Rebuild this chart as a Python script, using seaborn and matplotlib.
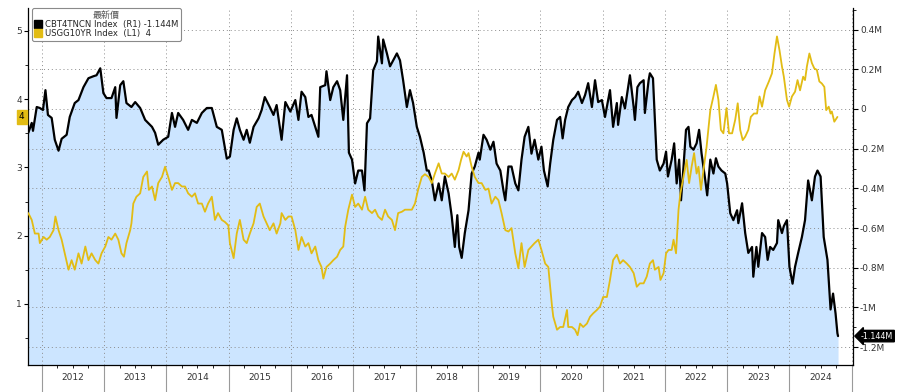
import numpy as np
import pandas as pd
import matplotlib
matplotlib.use("Agg")
import matplotlib.pyplot as plt
import matplotlib.transforms as mtransforms
from matplotlib.ticker import FixedLocator, FuncFormatter
from matplotlib.lines import Line2D
import seaborn as sns

# ---------------- data (decimal years) ----------------
black_t = [2011.785, 2011.84, 2011.86, 2011.92, 2011.97, 2012.02, 2012.06, 2012.10, 2012.16, 2012.21,
           2012.27, 2012.32, 2012.40, 2012.45, 2012.53, 2012.59, 2012.67, 2012.75, 2012.83, 2012.88,
           2012.94, 2012.99, 2013.04, 2013.12, 2013.18, 2013.20, 2013.26, 2013.31, 2013.36, 2013.44,
           2013.50, 2013.58, 2013.66, 2013.77, 2013.82, 2013.87, 2013.95, 2014.03, 2014.09, 2014.14,
           2014.19, 2014.27, 2014.35, 2014.41, 2014.49, 2014.57, 2014.65, 2014.73, 2014.81, 2014.89,
           2014.97, 2015.02, 2015.08, 2015.13, 2015.18, 2015.24, 2015.29, 2015.34, 2015.40, 2015.48,
           2015.53, 2015.58, 2015.66, 2015.72, 2015.77, 2015.85, 2015.91, 2015.99, 2016.07, 2016.12,
           2016.17, 2016.23, 2016.28, 2016.33, 2016.39, 2016.44, 2016.47, 2016.55, 2016.57, 2016.63,
           2016.68, 2016.74, 2016.79, 2016.84, 2016.90, 2016.93, 2016.98, 2017.03, 2017.08, 2017.14,
           2017.18, 2017.22, 2017.27, 2017.32, 2017.38, 2017.40, 2017.46, 2017.48, 2017.54, 2017.59,
           2017.64, 2017.70, 2017.75, 2017.80, 2017.86, 2017.91, 2017.96, 2018.02, 2018.07, 2018.13,
           2018.18, 2018.21, 2018.26, 2018.31, 2018.37, 2018.42, 2018.47, 2018.53, 2018.58, 2018.63,
           2018.67, 2018.70, 2018.74, 2018.79, 2018.85, 2018.90, 2018.95, 2019.01, 2019.03, 2019.09,
           2019.14, 2019.20, 2019.25, 2019.30, 2019.36, 2019.41, 2019.44, 2019.49, 2019.54, 2019.60,
           2019.65, 2019.70, 2019.75, 2019.81, 2019.86, 2019.91, 2019.97, 2020.02, 2020.06, 2020.12,
           2020.16, 2020.21, 2020.27, 2020.32, 2020.36, 2020.40, 2020.45, 2020.51, 2020.56, 2020.61,
           2020.67, 2020.72, 2020.77, 2020.83, 2020.88, 2020.93, 2020.99, 2021.04, 2021.12, 2021.17,
           2021.23, 2021.25, 2021.31, 2021.36, 2021.44, 2021.50, 2021.52, 2021.56, 2021.60, 2021.66,
           2021.68, 2021.74, 2021.76, 2021.81, 2021.84, 2021.87, 2021.92, 2021.98, 2022.02, 2022.05,
           2022.11, 2022.15, 2022.19, 2022.23, 2022.26, 2022.30, 2022.34, 2022.38, 2022.41, 2022.46,
           2022.51, 2022.55, 2022.59, 2022.65, 2022.68, 2022.73, 2022.78, 2022.82, 2022.86, 2022.91,
           2022.97, 2023.00, 2023.05, 2023.10, 2023.16, 2023.18, 2023.24, 2023.29, 2023.34, 2023.40,
           2023.42, 2023.47, 2023.50, 2023.56, 2023.61, 2023.65, 2023.69, 2023.74, 2023.80, 2023.82,
           2023.88, 2023.91, 2023.96, 2024.00, 2024.05, 2024.09, 2024.14, 2024.20, 2024.25, 2024.30,
           2024.36, 2024.41, 2024.45, 2024.50, 2024.55, 2024.61, 2024.66, 2024.70, 2024.74, 2024.77,
           2024.78]
black_v = [-0.12, -0.07, -0.11, 0.01, 0.005, -0.005, 0.095, -0.03, -0.045, -0.155,
           -0.21, -0.15, -0.13, -0.04, 0.03, 0.045, 0.11, 0.155, 0.165, 0.17,
           0.205, 0.08, 0.055, 0.055, 0.11, -0.045, 0.12, 0.14, 0.03, 0.01,
           0.035, 0.005, -0.055, -0.09, -0.12, -0.18, -0.155, -0.14, -0.02, -0.09,
           -0.02, -0.055, -0.105, -0.055, -0.07, -0.02, 0.005, 0.005, -0.09, -0.105,
           -0.25, -0.24, -0.105, -0.047, -0.105, -0.155, -0.105, -0.17, -0.09, -0.047,
           -0.005, 0.06, 0.01, -0.03, 0.02, -0.155, 0.035, -0.013, 0.045, -0.055,
           0.087, 0.06, -0.04, -0.03, -0.09, -0.14, 0.11, 0.12, 0.19, 0.045,
           0.11, 0.14, 0.095, -0.055, 0.17, -0.22, -0.255, -0.375, -0.31, -0.31,
           -0.41, -0.072, -0.047, 0.195, 0.24, 0.365, 0.23, 0.35, 0.28, 0.215,
           0.245, 0.28, 0.245, 0.145, 0.01, 0.095, 0.03, -0.09, -0.14, -0.22,
           -0.31, -0.31, -0.36, -0.46, -0.375, -0.46, -0.34, -0.425, -0.54, -0.695,
           -0.535, -0.695, -0.75, -0.625, -0.51, -0.325, -0.29, -0.22, -0.255, -0.13,
           -0.155, -0.205, -0.165, -0.275, -0.31, -0.41, -0.46, -0.29, -0.29, -0.375,
           -0.41, -0.255, -0.14, -0.09, -0.225, -0.155, -0.255, -0.19, -0.31, -0.39,
           -0.275, -0.155, -0.055, -0.04, -0.148, -0.055, 0.01, 0.045, 0.06, 0.087,
           0.03, 0.07, 0.13, 0.01, 0.145, 0.035, 0.045, -0.04, 0.095, -0.09,
           0.03, -0.08, 0.06, 0.003, 0.17, 0.01, -0.055, 0.11, 0.13, 0.145,
           -0.02, 0.145, 0.18, 0.155, -0.055, -0.255, -0.31, -0.275, -0.215, -0.34,
           -0.255, -0.173, -0.375, -0.255, -0.46, -0.29, -0.105, -0.09, -0.19, -0.205,
           -0.173, -0.105, -0.225, -0.36, -0.435, -0.255, -0.325, -0.248, -0.29, -0.31,
           -0.325, -0.375, -0.525, -0.56, -0.51, -0.575, -0.475, -0.625, -0.725, -0.695,
           -0.845, -0.695, -0.795, -0.625, -0.645, -0.76, -0.695, -0.71, -0.675, -0.56,
           -0.625, -0.59, -0.56, -0.795, -0.88, -0.795, -0.725, -0.645, -0.56, -0.36,
           -0.46, -0.34, -0.31, -0.34, -0.645, -0.76, -1.01, -0.93, -1.03, -1.13,
           -1.144]

yellow_t = [2011.785, 2011.84, 2011.89, 2011.95, 2011.97, 2012.03, 2012.08, 2012.13, 2012.19, 2012.22,
            2012.27, 2012.32, 2012.37, 2012.43, 2012.48, 2012.53, 2012.59, 2012.64, 2012.70, 2012.75,
            2012.80, 2012.86, 2012.91, 2012.96, 2013.02, 2013.07, 2013.12, 2013.18, 2013.23, 2013.28,
            2013.32, 2013.36, 2013.42, 2013.44, 2013.47, 2013.52, 2013.58, 2013.63, 2013.69, 2013.72,
            2013.77, 2013.82, 2013.87, 2013.93, 2013.98, 2014.03, 2014.09, 2014.14, 2014.19, 2014.25,
            2014.30, 2014.35, 2014.41, 2014.46, 2014.51, 2014.57, 2014.62, 2014.67, 2014.73, 2014.78,
            2014.83, 2014.89, 2014.94, 2014.995, 2015.02, 2015.08, 2015.13, 2015.18, 2015.24, 2015.29,
            2015.34, 2015.40, 2015.45, 2015.50, 2015.56, 2015.61, 2015.66, 2015.72, 2015.77, 2015.83,
            2015.85, 2015.91, 2015.96, 2016.01, 2016.07, 2016.12, 2016.17, 2016.23, 2016.28, 2016.33,
            2016.39, 2016.44, 2016.49, 2016.52, 2016.57, 2016.63, 2016.68, 2016.74, 2016.79, 2016.84,
            2016.87, 2016.92, 2016.98, 2017.03, 2017.08, 2017.14, 2017.19, 2017.24, 2017.30, 2017.35,
            2017.40, 2017.46, 2017.51, 2017.56, 2017.62, 2017.67, 2017.72, 2017.78, 2017.83, 2017.88,
            2017.94, 2017.99, 2018.04, 2018.10, 2018.15, 2018.21, 2018.26, 2018.31, 2018.37, 2018.42,
            2018.47, 2018.53, 2018.58, 2018.63, 2018.69, 2018.73, 2018.77, 2018.82, 2018.85, 2018.90,
            2018.95, 2019.01, 2019.06, 2019.12, 2019.17, 2019.22, 2019.28, 2019.33, 2019.38, 2019.44,
            2019.49, 2019.54, 2019.60, 2019.65, 2019.70, 2019.75, 2019.81, 2019.86, 2019.91, 2019.97,
            2020.02, 2020.08, 2020.13, 2020.19, 2020.21, 2020.27, 2020.32, 2020.37, 2020.43, 2020.45,
            2020.51, 2020.56, 2020.60, 2020.64, 2020.69, 2020.75, 2020.80, 2020.85, 2020.91, 2020.96,
            2021.01, 2021.07, 2021.12, 2021.17, 2021.23, 2021.28, 2021.33, 2021.39, 2021.44, 2021.50,
            2021.55, 2021.60, 2021.66, 2021.71, 2021.76, 2021.81, 2021.84, 2021.90, 2021.93, 2021.98,
            2022.02, 2022.06, 2022.11, 2022.14, 2022.18, 2022.22, 2022.25, 2022.30, 2022.35, 2022.39,
            2022.43, 2022.47, 2022.51, 2022.54, 2022.58, 2022.62, 2022.67, 2022.73, 2022.78, 2022.82,
            2022.86, 2022.90, 2022.94, 2022.99, 2023.03, 2023.08, 2023.13, 2023.17, 2023.21, 2023.25,
            2023.29, 2023.34, 2023.38, 2023.43, 2023.48, 2023.52, 2023.56, 2023.61, 2023.67, 2023.72,
            2023.76, 2023.80, 2023.84, 2023.88, 2023.91, 2023.96, 2023.995, 2024.04, 2024.09, 2024.13,
            2024.17, 2024.22, 2024.25, 2024.28, 2024.32, 2024.36, 2024.40, 2024.44, 2024.48, 2024.52,
            2024.56, 2024.59, 2024.63, 2024.66, 2024.68, 2024.72, 2024.77]
yellow_v = [2.33, 2.23, 2.03, 2.03, 1.89, 1.98, 1.94, 1.98, 2.08, 2.28,
            2.08, 1.94, 1.74, 1.50, 1.64, 1.50, 1.74, 1.59, 1.84, 1.64,
            1.74, 1.64, 1.59, 1.74, 1.84, 1.98, 1.94, 2.03, 1.94, 1.74,
            1.69, 1.89, 2.08, 2.18, 2.47, 2.57, 2.62, 2.86, 2.94, 2.67,
            2.72, 2.52, 2.77, 2.86, 3.01, 2.86, 2.67, 2.77, 2.77, 2.72,
            2.72, 2.62, 2.57, 2.62, 2.47, 2.47, 2.35, 2.47, 2.57, 2.23,
            2.33, 2.23, 2.20, 2.15, 1.89, 1.67, 2.03, 2.23, 1.94, 1.89,
            2.03, 2.18, 2.42, 2.47, 2.28, 2.18, 2.08, 2.18, 2.03, 2.18,
            2.33, 2.23, 2.28, 2.28, 2.08, 1.79, 1.98, 1.84, 1.89, 1.74,
            1.84, 1.64, 1.54, 1.37, 1.54, 1.59, 1.64, 1.69, 1.79, 1.84,
            2.13, 2.38, 2.60, 2.42, 2.47, 2.38, 2.57, 2.38, 2.33, 2.38,
            2.28, 2.23, 2.38, 2.28, 2.23, 2.08, 2.33, 2.35, 2.38, 2.38,
            2.38, 2.47, 2.67, 2.86, 2.90, 2.86, 2.77, 2.91, 3.06, 2.91,
            2.91, 2.86, 2.91, 2.82, 2.96, 3.11, 3.23, 3.16, 3.21, 3.01,
            2.86, 2.77, 2.77, 2.67, 2.69, 2.47, 2.57, 2.52, 2.33, 2.08,
            2.06, 2.11, 1.74, 1.52, 1.89, 1.54, 1.79, 1.84, 1.89, 1.94,
            1.79, 1.59, 1.54, 0.96, 0.81, 0.62, 0.66, 0.66, 0.91, 0.66,
            0.66, 0.62, 0.54, 0.71, 0.66, 0.71, 0.81, 0.86, 0.91, 0.96,
            1.10, 1.10, 1.35, 1.64, 1.72, 1.59, 1.64, 1.59, 1.54, 1.45,
            1.25, 1.30, 1.30, 1.40, 1.59, 1.64, 1.50, 1.54, 1.35, 1.45,
            1.74, 1.79, 1.79, 1.94, 1.74, 2.38, 2.62, 2.86, 3.11, 2.77,
            3.01, 3.21, 2.91, 3.01, 2.67, 2.96, 3.30, 3.84, 4.04, 4.21,
            3.99, 3.55, 3.50, 3.87, 3.50, 3.50, 3.70, 3.94, 3.55, 3.40,
            3.45, 3.55, 3.74, 3.79, 3.79, 4.04, 3.89, 4.13, 4.26, 4.38,
            4.67, 4.92, 4.72, 4.48, 4.33, 3.99, 3.89, 4.04, 4.11, 4.28,
            4.13, 4.33, 4.28, 4.48, 4.67, 4.53, 4.45, 4.43, 4.26, 4.23,
            4.18, 3.84, 3.89, 3.79, 3.82, 3.67, 3.74]

years = list(range(2012, 2026))
right_ticks = [-1.2, -1.0, -0.8, -0.6, -0.4, -0.2, 0.0, 0.2, 0.4]
left_ticks = [1, 2, 3, 4, 5]
black_label = "CBT4TNCN Index  (R1) -1.144M"
yellow_label = "USGG10YR Index  (L1)  4"
legend_title = "最新價"
black_last_text = "-1.144M"
yellow_last_text = "4"

# ---------------- styling ----------------
sns.set_theme(style="white")
plt.rcParams['font.family'] = ['DejaVu Sans', 'Noto Sans CJK TC']
plt.rcParams['axes.unicode_minus'] = False

BLACK = "#000000"
YELLOW = "#e2bc14"
FILL = "#cce5ff"
GRID = "#8c8c8c"
TXT = "#333333"

W, H = 911, 392
fig = plt.figure(figsize=(W / 100, H / 100), dpi=100)
fig.patch.set_facecolor("white")
x0, x1, y0, y1 = 28, 853, 8, 365
ax = fig.add_axes([x0 / W, 1 - y1 / H, (x1 - x0) / W, (y1 - y0) / H])
ax.set_facecolor("white")

# right-scale (black) series on the base axes
ax.fill_between(black_t, black_v, -1.4, color=FILL, linewidth=0, zorder=1)
sns.lineplot(x=black_t, y=black_v, ax=ax, color=BLACK, linewidth=1.6,
             estimator=None, sort=False, zorder=3)
ax.set_xlim(2011.78, 2025.02)
ax.set_ylim(-1.2897, 0.5088)
ax.set_xlabel("")
ax.set_ylabel("")

# left-scale (yellow) series on a twin axes
axl = ax.twinx()
sns.lineplot(x=yellow_t, y=yellow_v, ax=axl, color=YELLOW, linewidth=1.3,
             estimator=None, sort=False)
axl.set_ylim(0.103, 5.337)
axl.set_xlim(2011.78, 2025.02)
axl.set_ylabel("")

# base axes ticks go to the right (after twinx, which resets them)
ax.yaxis.tick_right()
ax.yaxis.set_major_locator(FixedLocator(right_ticks))
ax.yaxis.set_minor_locator(FixedLocator([v / 10 for v in range(-12, 6)]))


def rfmt(v, p):
    if abs(v) < 1e-9:
        return "0"
    return f"{v:g}M"


ax.yaxis.set_major_formatter(FuncFormatter(rfmt))
ax.tick_params(axis='y', which='major', right=True, left=False, labelright=True,
               labelleft=False, length=3.5, width=0.8, color=BLACK, labelsize=6.5,
               labelcolor=TXT, pad=1.5, direction='out')
ax.tick_params(axis='y', which='minor', right=True, left=False, length=2, width=0.6,
               color=BLACK, direction='out')

# x axis: year separators (major) and quarter ticks / labels (minor)
ax.xaxis.set_major_locator(FixedLocator(years))
ax.xaxis.set_major_formatter(FuncFormatter(lambda v, p: ""))
quarters = [y + q / 4 for y in range(2011, 2025) for q in range(4)]
ax.xaxis.set_minor_locator(FixedLocator(quarters))
ax.xaxis.set_minor_formatter(FuncFormatter(
    lambda v, p: str(int(np.floor(v))) if abs(v - np.floor(v) - 0.5) < 0.01 else ""))
ax.tick_params(axis='x', which='major', bottom=True, length=20, width=0.8,
               color="#9a9a9a", direction='out')
ax.tick_params(axis='x', which='minor', bottom=True, length=2, width=0.6,
               color=BLACK, labelsize=6.5, labelcolor=TXT, pad=4, direction='out')

ax.set_axisbelow('line')
ax.grid(True, axis='both', which='major', color=GRID, linestyle=(0, (1, 3)),
        linewidth=0.7)

for s in ['left', 'right', 'bottom']:
    ax.spines[s].set_visible(True)
    ax.spines[s].set_color(BLACK)
    ax.spines[s].set_linewidth(0.9)
ax.spines['top'].set_visible(False)

axl.yaxis.tick_left()
axl.yaxis.set_major_locator(FixedLocator(left_ticks))
axl.yaxis.set_minor_locator(FixedLocator([0.5 * k for k in range(1, 11)]))
axl.yaxis.set_major_formatter(FuncFormatter(lambda v, p: f"{int(v)}"))
axl.tick_params(axis='y', which='major', left=True, right=False, labelleft=True,
                labelright=False, length=3, width=0.8, color=BLACK, labelsize=6.5,
                labelcolor=TXT, pad=1.5, direction='out')
axl.tick_params(axis='y', which='minor', left=True, right=False, length=2, width=0.6,
                color=BLACK, direction='out')
axl.tick_params(axis='x', which='both', bottom=False, labelbottom=False)
axl.grid(False)
for s in axl.spines.values():
    s.set_visible(False)

# last-value tags
trR = mtransforms.blended_transform_factory(ax.transAxes, ax.transData)
ax.text(1.0095, black_v[-1], black_last_text, transform=trR, ha='left', va='center',
        color='white', fontsize=5.8, clip_on=False, zorder=10,
        bbox=dict(boxstyle='larrow,pad=0.15', fc=BLACK, ec=BLACK))
trL = mtransforms.blended_transform_factory(axl.transAxes, axl.transData)
axl.text(-0.0075, yellow_v[-1], yellow_last_text, transform=trL, ha='center', va='center',
         color=BLACK, fontsize=6.5, clip_on=False, zorder=10,
         bbox=dict(boxstyle='square,pad=0.25', fc=YELLOW, ec=YELLOW))

# legend
handles = [Line2D([], [], marker='s', color=BLACK, linestyle='none', markersize=5.5),
           Line2D([], [], marker='s', color=YELLOW, linestyle='none', markersize=5.5)]
leg = axl.legend(handles, [black_label, yellow_label], title=legend_title,
                 loc='upper left', bbox_to_anchor=(0.005, 1.0), fontsize=6.1,
                 title_fontsize=6.5, frameon=True, fancybox=True, edgecolor="#8a8a8a",
                 framealpha=1.0, borderpad=0.3, handletextpad=0.3, labelspacing=0.05,
                 handlelength=0.9, borderaxespad=0.0)
leg.get_title().set_color("#555555")
leg.get_title().set_family(['Noto Sans CJK TC', 'DejaVu Sans'])
leg.get_frame().set_linewidth(0.8)
leg.set_zorder(20)

fig.savefig("out.png", dpi=100, facecolor="white")
